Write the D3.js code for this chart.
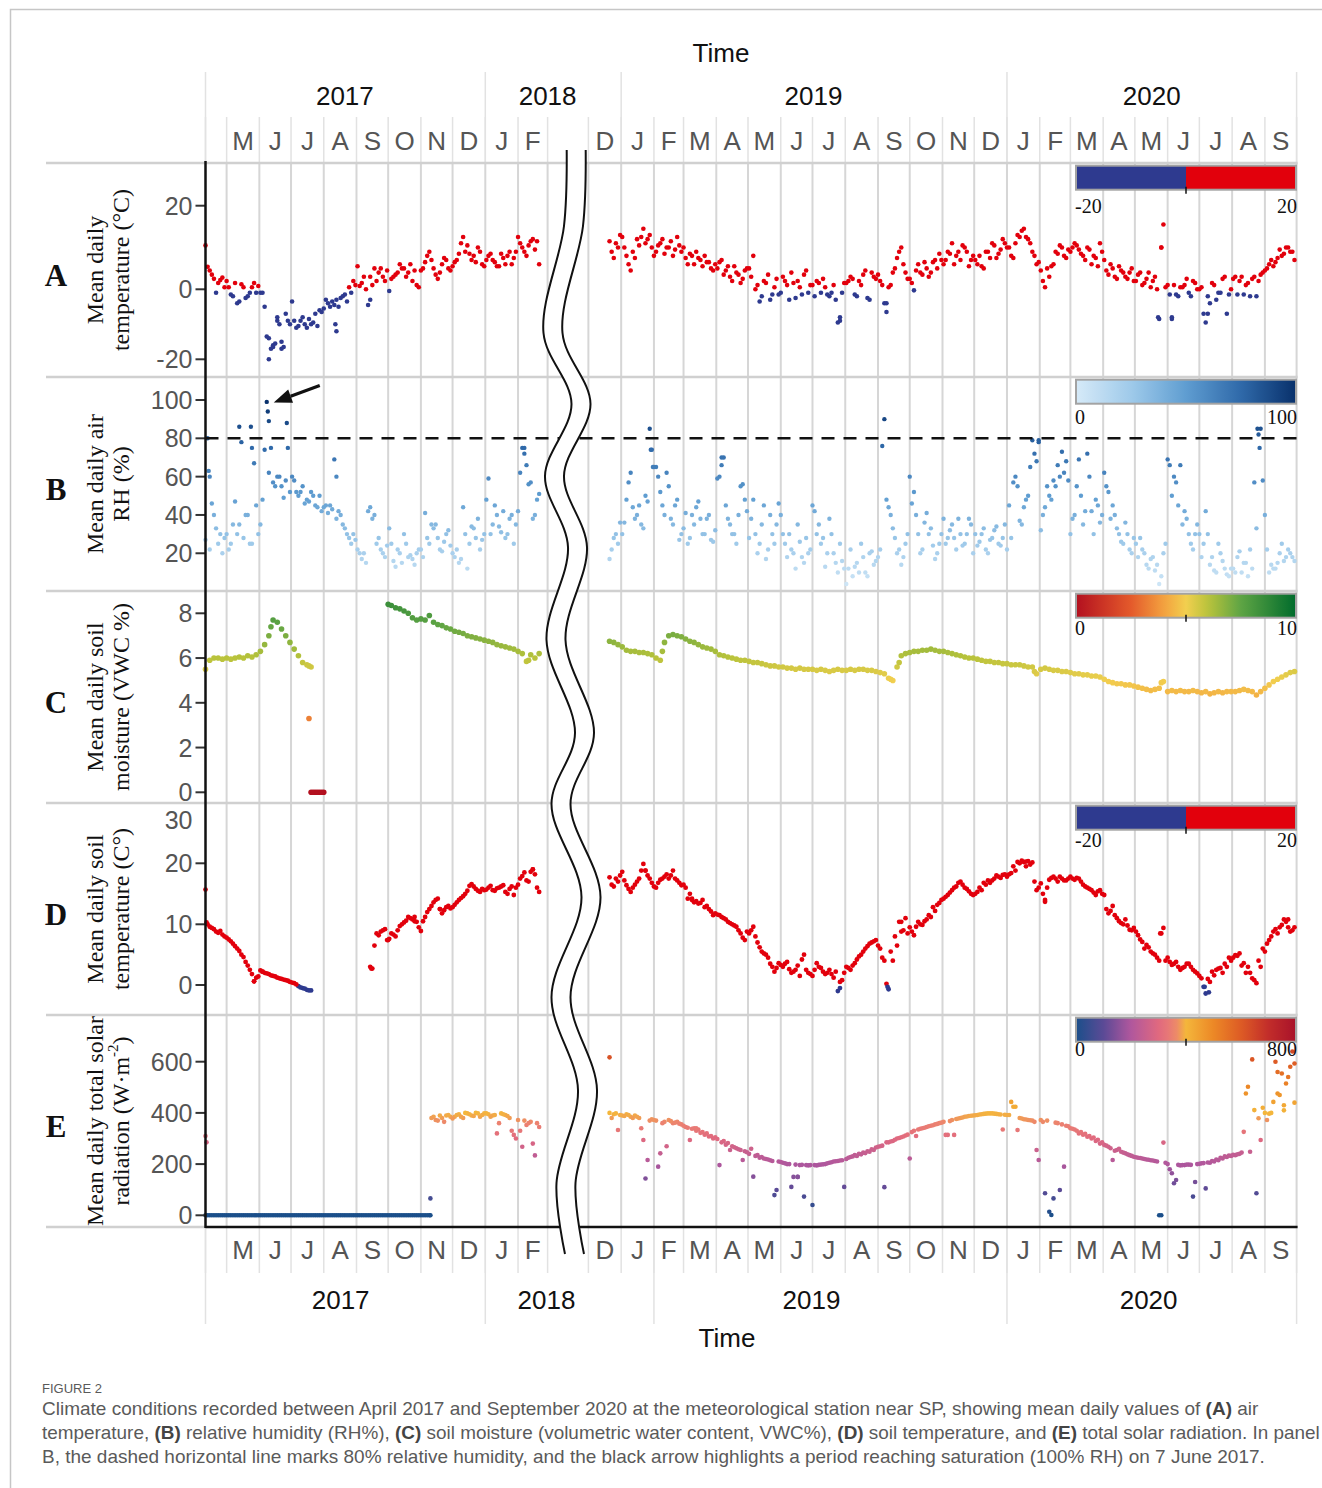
<!DOCTYPE html>
<html>
<head>
<meta charset="utf-8">
<script src="https://cdn.jsdelivr.net/npm/d3@7"></script>
<style>
  body { margin: 0; background: #fff; }
  svg text { font-family: "Liberation Sans", Arial, sans-serif; }
</style>
</head>
<body>
<div id="chart"></div>
<script>
// ---- data: daily means, one value every 4 days ----
// the "b" arrays are the days in between (offset by 2 days)
const seg1Start = "2017-04-11", seg1StartB = "2017-04-13";
const seg2Start = "2018-12-21", seg2StartB = "2018-12-23";
const stepDays = 4;

// (A) mean daily air temperature, degC
const airTemp1 = [10.5, 4.5, 2.5, 1.5, 2.8,
  2, -1.5, 1.5, -3.5, 0.5, -2, 0.5, -1,
  -1, -5, -20, -16, -9, -15, -7, -10,
  -9, -10.5, -8, -11, -10, -7, -6,
  -5.5, -4, -3.5, -3, -2.5, -1.5, 0.5, 2,
  5.5, 1.5, 0, 3, 5, 4, 3, 4.5,
  2.5, 3.5, 6, 5, 4, 2, 1,
  4.5, 6.5, 9, 5, 2.5, 6, 7, 4.5,
  6.5, 8.5, 12.5, 10.5, 7, 6.5, 9, 5.5,
  8, 7, 5.5, 8.5, 6, 9, 7.5,
  12.5, 10, 8, 11.5, 9.5, 6];
const airTemp1b = [5.4, 3.5, -1, 2.2, 0.5,
  0.5, -2, -4, 1.2, -2.5, -1, 1.5, 0.8,
  -1, -13.5, -17, -15.5, -10, -16.5, -9,
  -3.5, -11, -9, -10, -8.5, -9.5, -10.5, -6.5,
  -3, -5, -4.5, -5, -2, -3.5, -1, 1,
  0.8, 3, -4.5, 1, 2, 5, 2,
  -0.5, 3, 4, 5, 3, 6, 4.5, 0.5,
  5, 8, 7, 3.5, 4, 7.5, 5,
  5.5, 7, 11, 9, 8.5, 8, 10, 6,
  7, 8.5, 6.5, 5.5, 7.5, 8, 6, 9,
  11, 9, 10.5, 12, 11.5, null];
const airTemp2 = [11.5, 7.5, 10,
  12.5, 8, 4.5, 7.5, 10.5, 14.5, 12, 10,
  9, 11, 8.5, 10, 8, 12.5, 9,
  7.5, 8.5, 6, 7.5, 5.5, 6.5, 5, 6,
  6.5, 3.5, 5.5, 2, 4, 1.5, 4.5,
  5, 8, 1, -2, 1.5, -3, 0.5, -1.5,
  3, 1, 4, -2.5, 0.5, 3.5, -1,
  1, 2, -1, 0.5, -2, 1, -9.5, -1,
  1.5, 3, -1.5, 2, 3.5, -2.5, 4, 2.5,
  2, -4, 0.5, 4, 7.5, 10, 4,
  2.5, -0.3, 6, 3.5, 5, 4, 7, 8.5,
  6, 9, 11, 8, 7, 10, 5.5, 8,
  6, 5.5, 9, 7.5, 10.5, 8.5, 12, 10,
  8, 11, 12.5, 14.5, 12, 9, 6,
  4.5, 0.5, 3, 6, 8.5, 10, 7.5,
  9, 11, 9.5, 8, 10, 6, 7.5, 11,
  7, 3.5, 5, 2.5, 4.5, 3, 4, 2,
  3.5, 1, 2.5, 0.5, 3, -8.5, 15.5,
  1, -8.5, -1.5, 0.5, 1, -1, 2, 0,
  0.5, -9.5, -4, 1, -1, 2.5, -7, 0,
  3, 2, -1.5, 1.5, 2.5, -2, 3.5, 4.5,
  6, 5.5, 7.5, 8, 10, 9, 7];
const airTemp2b = [9, 11, 13,
  10, 6, 9, 12, 12.5, 11, 13,
  8, 10.5, 12, 10, 11.5, 9.5, 10.5,
  10, 6, 8, 9, 7, 8, 6.5, 4.5,
  5, 7, 4.5, 3, 5.5, 3.5, 2.5, 5,
  3, 0, -3.5, 2, 3.5, -1.5, 2.5,
  -1, 2, -3, 1.5, 2, -1.5, 4.5, 1,
  -2, 1.5, 2.5, -1.5, -1, -3, -8, 1.5,
  2, 2.5, -2, 1, 4.5, -3, 3,
  3.5, 1, -6.5, 1, 5, 9, 6, 2.5,
  1.5, 4.5, 4, 6.5, 3, 6.5, 5, 7,
  7, 8.5, 6, 9, 10.5, 9, 7,
  7, 8, 5, 9, 11, 7.5, 9.5, 11,
  10, 7.5, 13, 14, 12.5, 11, 8, 6.5,
  2, 5, 5.5, 9, 10.5, 8, 9.5,
  10, 10.5, 8.5, 7, 9.5, 8, 5.5, 9,
  4.5, 6, 3, 5.5, 4, 2.5, 5,
  2, 4, 1.5, 4, 2, 0, 10, 0.5,
  -1.5, 1, -2, 0.5, 2.5, -2, 1.5,
  0, -7, -2, 1.5, -3, -1, 3, -1.5,
  2.5, -1.5, 3, 1, -2, 3, 2, 4,
  5, 7, 6.5, 9.5, 8.5, 10, 9];
const airTempExtra = [["2017-06-10",-14],["2017-06-14",-16.5],["2017-06-18",-8],["2017-06-22",-17],["2017-08-12",-10],["2017-08-13",-12],["2017-09-14",-3],["2019-07-27",-9],["2019-09-09",-4],["2020-05-26",10],["2020-05-23",-8],["2020-07-09",-7],["2020-06-05",-8]];

// (B) mean daily air relative humidity, %
const rh1 = [27, 22, 40, 25, 20,
  30, 25, 47, 35, 28, 40, 25, 45,
  35, 74, 62, 57, 60, 55, 58, 52,
  58, 50, 55, 48, 52, 45, 50,
  44, 41, 43, 38, 40, 33, 28, 30,
  22, 17, 15, 44, 40, 28, 20, 24,
  25, 13, 20, 30, 18, 17, 20,
  22, 41, 25, 33, 28, 21, 30, 24,
  18, 15, 44, 12, 34, 28, 22, 30,
  59, 35, 40, 31, 28, 38, 25,
  42, 75, 66, 57, 40, 51];
const rh1b = [80, 46, 33, 30, 28,
  22, 35, 30, 78, 40, 25, 67, 30,
  48, 99, 75, 55, 60, 49, 75,
  60, 52, 52, 46, 47, 50, 44, 42,
  45, 45, 69, 42, 35, 30, 25, 27,
  20, 20, 42, 38, 25, 22, 18,
  33, 16, 22, 15, 25, 19, 14, 22,
  18, 28, 35, 35, 22, 26, 32,
  20, 22, 17, 30, 25, 33, 38, 27,
  48, 30, 45, 34, 42, 30, 40, 35,
  62, 72, 56, 38, 48, null];
const rh2 = [17, 28, 25,
  30, 48, 62, 38, 45, 33, 47, 74,
  65, 52, 40, 55, 35, 48, 30,
  41, 28, 35, 47, 30, 38, 27, 32,
  60, 70, 38, 30, 25, 55, 48,
  28, 48, 20, 35, 17, 40, 25, 46,
  30, 18, 22, 12, 26, 15, 20,
  45, 30, 25, 13, 38, 20, 10, 16,
  4, 22, 13, 10, 18, 8, 21, 16,
  22, 90, 44, 33, 20, 14, 25,
  60, 52, 30, 22, 41, 33, 17, 25,
  38, 28, 35, 22, 30, 25, 38, 20,
  24, 30, 22, 27, 32, 25, 28, 22,
  28, 60, 37, 44, 50, 79, 68,
  32, 44, 50, 58, 66, 73, 68,
  30, 40, 69, 35, 72, 42, 48, 36,
  62, 52, 45, 33, 26, 36, 22, 28,
  18, 22, 14, 17, 11, 4, 20,
  69, 50, 57, 66, 42, 30, 22, 35,
  18, 42, 14, 11, 25, 16, 9, 12,
  10, 21, 15, 8, 12, 33, 85, 40,
  10, 12, 15, 25, 18, 20, 16];
const rh2b = [22, 30, 36,
  36, 57, 44, 40, 35, 50, 85,
  65, 60, 45, 62, 38, 45, 27,
  33, 25, 40, 44, 38, 30, 40, 26,
  59, 66, 45, 35, 30, 40, 56, 42,
  38, 30, 25, 45, 22, 30, 35,
  40, 25, 30, 20, 35, 18, 28, 22,
  42, 35, 28, 20, 30, 15, 25, 12,
  12, 8, 15, 25, 10, 20, 14,
  18, 76, 48, 40, 28, 22, 18, 30,
  46, 40, 20, 36, 30, 24, 20, 30,
  25, 32, 28, 38, 24, 30, 35,
  30, 26, 33, 20, 28, 34, 24, 35,
  45, 57, 55, 35, 48, 65, 72, 78,
  40, 55, 48, 55, 60, 62, 58,
  38, 55, 50, 42, 60, 30, 45, 40,
  55, 38, 40, 30, 25, 30, 20,
  25, 28, 20, 12, 18, 14, 8, 25,
  66, 60, 45, 35, 38, 25, 30,
  30, 25, 30, 18, 10, 20, 12, 8,
  12, 18, 10, 15, 22, 57, 82, 58,
  22, 14, 12, 20, 16, 22, 18];
const rhExtra = [["2017-04-14",63],["2017-04-15",60],["2017-05-13",86],["2017-05-24",86],["2017-05-25",75],["2017-06-09",94],["2017-06-10",89],["2017-06-27",88],["2017-08-13",60],["2018-02-07",75],["2019-01-29",74],["2019-01-31",65],["2019-04-06",70],["2020-01-31",79],["2020-08-25",85],["2020-08-27",75]];
const arrowTarget = ["2017-06-08", 99];
const rhThreshold = 80;

// (C) mean daily soil moisture, VWC %
const soilMoist1 = [5.5, 5.9, 6.0, 6.0, 5.95,
  6.0, 5.95, 6.0, 6.05, 6.0, 6.1, 6.05, 6.15,
  6.3, 6.6, 7.0, 7.7, 7.6, 7.3, 7.0, 6.7,
  6.4, 6.1, 5.8, 5.7, 5.6, 0, 0,
  0, null, null, null, null, null, null, null,
  null, null, null, null, null, null, null, null,
  8.35, 8.25, 8.2, 8.1, 8.0, 7.8, 7.7,
  7.75, 7.7, 7.9, 7.6, 7.5, 7.45, 7.35, 7.3,
  7.2, 7.15, 7.1, 7.0, 6.95, 6.9, 6.85, 6.8,
  6.75, 6.7, 6.6, 6.55, 6.5, 6.45, 6.4,
  6.3, 6.2, 5.85, 6.15, 6.0, 6.2];
const soilMoist2 = [6.75, 6.7, 6.6,
  6.5, 6.35, 6.3, 6.3, 6.25, 6.25, 6.2, 6.15,
  6.0, 5.9, 6.7, 7.0, 7.05, 7.0, 6.95,
  6.85, 6.75, 6.7, 6.6, 6.5, 6.45, 6.4, 6.3,
  6.15, 6.1, 6.05, 6.0, 5.95, 5.9, 5.9,
  5.85, 5.8, 5.8, 5.75, 5.7, 5.65, 5.65, 5.6,
  5.6, 5.55, 5.55, 5.5, 5.55, 5.5, 5.5,
  5.5, 5.45, 5.5, 5.45, 5.4, 5.45, 5.5, 5.45,
  5.45, 5.5, 5.45, 5.5, 5.5, 5.45, 5.45, 5.4,
  5.35, 5.3, 5.1, 5.0, 5.6, 6.1, 6.2,
  6.25, 6.3, 6.3, 6.35, 6.35, 6.4, 6.35, 6.3,
  6.3, 6.25, 6.2, 6.15, 6.1, 6.05, 6.0, 6.0,
  5.95, 5.9, 5.85, 5.85, 5.8, 5.8, 5.75, 5.75,
  5.7, 5.7, 5.7, 5.65, 5.6, 5.6, 5.3,
  5.5, 5.55, 5.5, 5.45, 5.45, 5.4, 5.4,
  5.35, 5.3, 5.3, 5.25, 5.25, 5.2, 5.2, 5.15,
  5.05, 4.95, 4.9, 4.85, 4.85, 4.8, 4.8, 4.75,
  4.7, 4.65, 4.6, 4.55, 4.6, 4.65, 4.95,
  4.5, 4.55, 4.5, 4.55, 4.5, 4.5, 4.55, 4.5,
  4.45, 4.5, 4.4, 4.45, 4.5, 4.45, 4.5, 4.5,
  4.5, 4.55, 4.6, 4.55, 4.5, 4.35, 4.5, 4.65,
  4.8, 4.95, 5.05, 5.15, 5.25, 5.35, 5.4];
const soilMoistExtra = [["2017-10-01",8.4],["2017-07-18",3.3],["2017-07-20",0],["2017-07-22",0],["2017-07-26",0],["2017-07-30",0],["2017-07-18",5.65],["2017-06-12",7.4],["2018-02-11",5.9],["2019-02-09",6.3],["2019-09-13",5.05],["2019-09-21",5.8],["2020-05-26",4.9],["2020-01-27",5.4]];

// (D) mean daily soil temperature, degC
const soilTemp1 = [15.7, 9.6, 9.2, 8.6, 8.3,
  7.8, 7.2, 6.4, 5.6, 4.6, 3.2, 1.8, 1.2,
  2.4, 2.0, 1.8, 1.5, 1.2, 1.0, 0.8, 0.5,
  0.3, -0.2, -0.5, -0.8, -0.9, null, null,
  null, null, null, null, null, null, null, null,
  null, null, null, 3.0, 6.5, 8.2, 9.0, 7.4,
  8.5, 8.0, 9.7, 10.3, 11.2, 10.8, 10.4,
  8.9, 11.2, 12.5, 13.6, 14.2, 11.8, 12.8, 12.6,
  13.2, 14.0, 14.6, 15.5, 16.6, 15.8, 15.3, 15.6,
  16.0, 15.6, 15.9, 16.2, 15.3, 15.8, 14.8,
  16.5, 17.9, 17.2, 18.6, 18.2, 15.3];
const soilTemp1b = [10.0, 9.4, 8.8, 8.9, 8.0,
  7.5, 6.8, 6.0, 5.0, 3.8, 2.5, 0.6, 1.4,
  2.2, 1.9, 1.6, 1.4, 1.1, 0.9, 0.7,
  0.4, 0.1, -0.4, -0.6, -0.9, null, null, null,
  null, null, null, null, null, null, null, null,
  null, null, null, 2.7, 8.5, 8.8, 9.2,
  7.6, 8.3, 9.0, 10.0, 10.6, 11.0, 10.5, 9.5,
  10.5, 12.0, 13.0, 14.0, 12.5, 12.3, 13.0,
  12.8, 13.6, 14.3, 15.0, 16.3, 16.2, 15.5, 15.8,
  15.7, 16.3, 15.5, 16.0, 16.4, 15.0, 16.2, 16.0,
  17.5, 18.5, 17.0, 19.0, 16.0, null];
const soilTemp2 = [17.7, 16.2, 17.0,
  18.6, 16.4, 15.3, 16.5, 17.5, 19.9, 18.0, 16.8,
  16.0, 17.3, 17.8, 17.5, 18.8, 17.2, 16.4,
  16.0, 15.0, 13.6, 13.4, 14.0, 13.0, 12.1, 11.8,
  11.5, 11.0, 10.4, 10.0, 9.6, 8.5, 7.4,
  8.5, 9.6, 7.0, 5.5, 5.0, 3.5, 2.2, 3.6,
  3.0, 3.8, 2.0, 2.5, 1.5, 5.0, 2.0,
  1.5, 3.6, 2.8, 1.8, 2.5, 1.2, -1.0, 0.8,
  3.0, 2.5, 3.6, 4.7, 5.5, 6.4, 7.0, 7.4,
  6.0, 4.0, -0.7, 4.0, 6.5, 8.8, 11.0,
  9.5, 8.2, 10.4, 9.9, 10.8, 11.2, 12.2, 13.5,
  14.2, 14.8, 15.6, 16.2, 17.0, 16.0, 15.4, 14.8,
  15.3, 15.6, 16.5, 16.8, 17.5, 17.8, 18.1, 17.8,
  18.4, 18.8, 20.0, 20.3, 20.5, 20.2, 15.6,
  16.7, 13.7, 17.3, 17.8, 17.0, 17.5, 17.2,
  17.8, 17.3, 17.5, 16.5, 16.0, 15.6, 14.8, 15.6,
  14.8, 11.8, 13.0, 11.0, 10.2, 10.8, 9.1, 9.4,
  8.2, 7.1, 6.6, 5.5, 5.0, 4.0, 9.4,
  4.5, 3.3, 3.8, 2.5, 3.0, 3.5, 2.5, 1.9,
  1.1, -1.4, 0.5, 1.6, 2.7, 2.0, 3.0, 4.0,
  4.9, 5.2, 3.6, 3.0, 1.1, 0.3, 3.0, 5.5,
  7.4, 8.8, 8.5, 9.9, 10.4, 8.8, 9.5];
const soilTemp2b = [16.5, 17.5, 18.0,
  17.2, 15.8, 16.0, 17.0, 18.8, 18.8, 17.5,
  16.2, 16.8, 17.5, 18.2, 18.0, 17.5, 16.8,
  16.5, 14.2, 14.0, 13.8, 13.5, 12.8, 12.5, 11.5,
  11.6, 11.2, 10.8, 10.2, 9.8, 9.0, 7.8, 8.8,
  9.0, 8.0, 6.2, 5.2, 4.5, 3.0, 2.8,
  3.3, 3.5, 2.6, 2.2, 3.2, 4.2, 2.5, 1.8,
  2.5, 3.0, 2.2, 2.0, 1.8, 2.2, 0.5, 2.0,
  2.8, 3.2, 4.2, 5.0, 6.0, 6.8, 7.2,
  6.5, 4.5, 0.2, 5.5, 8.0, 10.4, 9.0, 8.5,
  8.8, 9.6, 10.0, 10.5, 11.5, 12.8, 13.2, 14.0,
  14.5, 15.2, 16.0, 16.8, 16.5, 15.8, 15.0,
  15.0, 16.0, 16.8, 17.2, 17.2, 18.0, 17.6, 18.2,
  18.2, 19.5, 20.3, 20.6, 20.4, 19.8, 17.0, 16.0,
  15.0, 16.0, 17.6, 17.5, 17.8, 17.2, 17.5,
  17.5, 17.6, 17.0, 16.2, 15.8, 15.2, 15.4, 15.0,
  12.5, 12.2, 11.5, 10.5, 10.0, 9.8, 9.0,
  8.8, 7.5, 6.0, 6.2, 5.2, 4.5, 8.5, 4.0,
  3.8, 3.5, 3.0, 2.8, 3.5, 3.0, 2.2,
  1.5, -0.3, 1.0, 2.2, 2.5, 2.8, 3.5, 4.5,
  4.5, 4.8, 3.2, 2.0, 2.0, 0.8, 4.0, 6.0,
  6.8, 8.0, 9.2, 9.5, 10.8, 9.5, 9.0];
const soilTempExtra = [["2017-04-12",10.3],["2017-05-27",0.6],["2017-06-04",2.2],["2017-09-15",2.7],["2017-10-01",7.4],["2017-10-26",11.2],["2017-11-19",12.5],["2018-02-15",19],
  ["2019-01-24",18.8],["2019-03-09",14.2],["2019-07-27",-0.5],["2019-09-10",-0.3],["2019-09-23",10.4],["2020-01-19",19.5],["2020-02-06",14],["2020-05-25",8.5],["2020-07-06",-0.3],["2020-07-10",-1.2],["2020-09-23",10.8]];

// (E) mean daily total solar radiation, W m-2
const solar1 = [0, 0, 0, 0, 0,
  0, 0, 0, 0, 0, 0, 0, 0,
  0, 0, 0, 0, 0, 0, 0, 0,
  0, 0, 0, 0, 0, 0, 0,
  0, 0, 0, 0, 0, 0, 0, 0,
  0, 0, 0, 0, 0, 0, 0, 0,
  0, 0, 0, 0, 0, 0, 0,
  0, 0, 0, 385, 370, 380, 390, 385,
  385, 395, 380, 398, 390, 400, 385, 398,
  395, 390, 320, 398, 392, 380, 314,
  372, 268, 353, 365, 234, 345];
const solar1b = [0, 0, 0, 0, 0,
  0, 0, 0, 0, 0, 0, 0, 0,
  0, 0, 0, 0, 0, 0, 0,
  0, 0, 0, 0, 0, 0, 0, 0,
  0, 0, 0, 0, 0, 0, 0, 0,
  0, 0, 0, 0, 0, 0, 0,
  0, 0, 0, 0, 0, 0, 0, 0,
  0, 0, 380, 372, 390, 365, 392,
  378, 392, 385, 400, 395, 388, 398, 392,
  398, 385, 392, 360, 395, 388, 330, 300,
  330, 370, 360, 280, 360, null];
const solar2 = [400, 395, 333,
  390, 395, 385, 390, 380, 294, 216, 375,
  370, 242, 365, 372, 360, 365, 355,
  345, 294, 340, 335, 325, 320, 310, 305,
  196, 290, 282, 270, 262, 255, 250,
  240, 151, 235, 228, 220, 215, 79, 210,
  205, 200, 111, 198, 196, 73, 195,
  40, 195, 198, 200, 205, 210, 212, 215,
  220, 228, 235, 240, 245, 250, 258, 265,
  270, 110, 285, 290, 300, 305, 312,
  222, 330, 335, 340, 345, 350, 355, 360,
  365, 314, 372, 376, 380, 385, 388, 390,
  392, 395, 397, 398, 397, 395, 335, 392,
  443, 424, 380, 375, 372, 370, 255,
  372, 86, 14, 66, 360, 355, 350,
  340, 335, 320, 315, 307, 300, 290, 280,
  275, 268, 216, 255, 248, 242, 235, 229,
  225, 222, 218, 215, 212, 0, 284,
  200, 164, 138, 195, 196, 198, 73, 200,
  203, 105, 205, 210, 215, 222, 228, 232,
  235, 240, 326, 502, 609, 86, 294, 400,
  397, 443, 476, 554, 515, 580, 593];
const solar2b = [380, 398, 392,
  388, 392, 380, 385, 340, 144, 370,
  372, 190, 360, 270, 368, 362, 358,
  350, 342, 338, 330, 322, 315, 308, 300,
  298, 285, 276, 255, 266, 258, 216, 246,
  260, 232, 225, 222, 218, 212, 99,
  208, 203, 200, 150, 150, 197, 196, 196,
  196, 197, 199, 203, 207, 211, 214, 111,
  225, 230, 232, 238, 243, 248, 255,
  268, 272, 285, 288, 295, 302, 308, 315,
  325, 310, 338, 342, 348, 352, 357, 362,
  314, 368, 314, 378, 382, 386, 389,
  391, 394, 396, 398, 398, 396, 394, 393,
  392, 424, 333, 378, 374, 371, 365, 216,
  365, 370, 1, 362, 99, 190, 348,
  338, 330, 325, 318, 310, 304, 295, 285,
  272, 262, 252, 260, 245, 238, 232,
  227, 224, 220, 217, 214, 210, 0, 205,
  180, 125, 197, 196, 198, 197, 130,
  201, 204, 206, 212, 218, 225, 230, 233,
  236, 238, 245, 476, 248, 411, 379, 420,
  372, 400, 600, 470, 410, 540, 640];
const solarExtra = [["2017-04-11",310],["2017-04-12",285],["2017-11-10",66],["2017-11-10",0],["2018-12-21",617],
  ["2019-03-13",340],["2019-06-17",150],["2020-09-13",560],["2020-09-19",430],["2020-09-29",440]];

// ---- axis labelling ----
const yearLabels = ["2017", "2018", "2019", "2020"];
const yearLabelDatesTop = ["2017-08-21", "2018-03-01", "2019-07-02", "2020-05-17"];
const yearLabelDatesBottom = ["2017-08-17", "2018-02-28", "2019-06-30", "2020-05-14"];
const yearEdgesTop = ["2017-04-11", "2018-01-01", "2019-01-01", "2020-01-01", "2020-10-01"];
const yearEdgesBottom = ["2017-04-11", "2018-01-01", "2019-02-01", "2020-01-01", "2020-10-01"];

const parse = d3.timeParse("%Y-%m-%d");

function series(vals, start) {
  const s = parse(start);
  return vals.map((v, i) => ({date: d3.timeDay.offset(s, i * stepDays), v: v}))
    .filter(d => d.v !== null);
}
function extras(list) {
  return list.map(([d, v]) => ({date: parse(d), v: v}));
}

const W = 1322, H = 1488;
const plotL = 205.5, plotR = 1296.6, plotTop = 163, plotBottom = 1227;

const svg = d3.select("#chart").append("svg")
  .attr("width", W).attr("height", H).style("display", "block");

// broken time axis: Apr 2017 - Feb 2018 | Dec 2018 - Sep 2020
const x = d3.scaleTime()
  .domain([parse("2017-04-11"), parse("2018-03-01"), parse("2018-12-01"), parse("2020-10-01")])
  .range([plotL, 547.6, 588.4, plotR]);

const monthEdges = d3.timeMonth.range(parse("2017-05-01"), parse("2018-03-02"))
  .concat(d3.timeMonth.range(parse("2018-12-01"), parse("2020-10-02")));
const monthsShown = d3.timeMonth.range(parse("2017-05-01"), parse("2018-03-01"))
  .concat(d3.timeMonth.range(parse("2018-12-01"), parse("2020-10-01")));

// colour scales
const tempColor = v => v < 0 ? "#2e3a8f" : "#e2000c";
const rhColor = d3.scaleLinear().domain([0, 25, 50, 75, 100])
  .range(["#d6eaf8", "#9fcaea", "#5f9dd1", "#2f69a9", "#08306b"]).clamp(true);
const vwcColor = d3.scaleLinear().domain([0, 2.5, 4, 5, 6, 7.5, 10])
  .range(["#b3101f", "#e45a2b", "#f3a23f", "#f2cf4f", "#b9c33b", "#5ea444", "#006b2c"]).clamp(true);
const solarColor = d3.scaleLinear().domain([0, 100, 200, 300, 360, 400, 500, 600, 700, 800])
  .range(["#1b4f8a", "#5b4a96", "#b0579d", "#e0697f", "#ec8270", "#f4b63b", "#ec8826", "#dd5b25", "#c22d2a", "#a8122a"]).clamp(true);

const panels = [
  {letter: "A", top: 163, bottom: 377, title: ["Mean daily", "temperature (\u00b0C)"],
   y: d3.scaleLinear().domain([-20, 0, 20]).range([359.3, 289.3, 205.7]),
   ticks: [-20, 0, 20], labelOnly: [],
   data: series(airTemp1, seg1Start).concat(series(airTemp1b, seg1StartB), series(airTemp2, seg2Start),
     series(airTemp2b, seg2StartB), extras(airTempExtra)),
   color: tempColor, r: 2.3,
   legend: {split: true, colors: ["#2e3a8f", "#e2000c"], labels: ["-20", "20"], tick: true, labelY: 206}},
  {letter: "B", top: 377, bottom: 591, title: ["Mean daily air", "RH (%)"],
   y: d3.scaleLinear().domain([0, 100]).range([591.6, 400]),
   ticks: [20, 40, 60, 80, 100], labelOnly: [],
   data: series(rh1, seg1Start).concat(series(rh1b, seg1StartB), series(rh2, seg2Start),
     series(rh2b, seg2StartB), extras(rhExtra)),
   color: rhColor, r: 2.2,
   legend: {scale: rhColor, domain: [0, 100], labels: ["0", "100"], tick: false, labelY: 417}},
  {letter: "C", top: 591, bottom: 803, title: ["Mean daily soil", "moisture (VWC %)"],
   y: d3.scaleLinear().domain([0, 8]).range([792.3, 613.3]),
   ticks: [0, 2, 4, 6, 8], labelOnly: [],
   data: series(soilMoist1, seg1Start).concat(series(soilMoist2, seg2Start), extras(soilMoistExtra)),
   color: vwcColor, r: 2.8,
   legend: {scale: vwcColor, domain: [0, 10], labels: ["0", "10"], tick: true, labelY: 628}},
  {letter: "D", top: 803, bottom: 1015, title: ["Mean daily soil", "temperature (C\u00b0)"],
   y: d3.scaleLinear().domain([0, 10, 20, 30]).range([985, 924.3, 863.3, 820]),
   ticks: [0, 10, 20], labelOnly: [30],
   data: series(soilTemp1, seg1Start).concat(series(soilTemp1b, seg1StartB), series(soilTemp2, seg2Start),
     series(soilTemp2b, seg2StartB), extras(soilTempExtra)),
   color: tempColor, r: 2.4,
   legend: {split: true, colors: ["#2e3a8f", "#e2000c"], labels: ["-20", "20"], tick: true, labelY: 840}},
  {letter: "E", top: 1015, bottom: 1227, title: ["Mean daily total solar", "radiation (W\u00b7m"],
   y: d3.scaleLinear().domain([0, 600]).range([1215.3, 1061.7]),
   ticks: [0, 200, 400, 600], labelOnly: [],
   data: series(solar1, seg1Start).concat(series(solar1b, seg1StartB), series(solar2, seg2Start),
     series(solar2b, seg2StartB), extras(solarExtra)),
   color: solarColor, r: 2.3,
   legend: {scale: solarColor, domain: [0, 800], labels: ["0", "800"], tick: true, labelY: 1049}}
];

// ---- frame ----
svg.append("path").attr("d", "M10.5,1488 V9.5 H1322")
  .attr("fill", "none").attr("stroke", "#c6c6c6").attr("stroke-width", 1.5);

// ---- top and bottom time strips ----
const strips = svg.append("g");
function stripLines(dates, y1, y2) {
  strips.selectAll(null).data(dates).join("line")
    .attr("x1", d => x(d)).attr("x2", d => x(d))
    .attr("y1", y1).attr("y2", y2)
    .attr("stroke", "#e2e2e2").attr("stroke-width", 1.5);
}
stripLines([parse("2017-04-11")].concat(monthEdges), 117, plotTop);
stripLines(yearEdgesTop.map(parse), 72, plotTop);
stripLines([parse("2017-04-11")].concat(monthEdges), plotBottom, 1273);
stripLines(yearEdgesBottom.map(parse), plotBottom, 1324);

[141, 1250].forEach(yy => {
  strips.selectAll(null).data(monthsShown).join("text")
    .attr("x", d => (x(d) + x(d3.timeMonth.offset(d, 1))) / 2)
    .attr("y", yy).attr("text-anchor", "middle").attr("dominant-baseline", "central")
    .attr("font-size", 26).attr("fill", "#555")
    .text(d => d3.timeFormat("%B")(d)[0]);
});
strips.selectAll(null).data(yearLabels).join("text")
  .attr("x", (d, i) => x(parse(yearLabelDatesTop[i]))).attr("y", 96)
  .attr("text-anchor", "middle").attr("dominant-baseline", "central")
  .attr("font-size", 26).attr("fill", "#111").text(d => d);
strips.selectAll(null).data(yearLabels).join("text")
  .attr("x", (d, i) => x(parse(yearLabelDatesBottom[i]))).attr("y", 1300)
  .attr("text-anchor", "middle").attr("dominant-baseline", "central")
  .attr("font-size", 26).attr("fill", "#111").text(d => d);
svg.append("text").attr("x", 721).attr("y", 53).attr("text-anchor", "middle")
  .attr("dominant-baseline", "central").attr("font-size", 26).attr("fill", "#111").text("Time");
svg.append("text").attr("x", 727).attr("y", 1338).attr("text-anchor", "middle")
  .attr("dominant-baseline", "central").attr("font-size", 26).attr("fill", "#111").text("Time");

// ---- panel grid ----
const grid = svg.append("g");
grid.selectAll(null).data(monthEdges).join("line")
  .attr("x1", d => x(d)).attr("x2", d => x(d))
  .attr("y1", plotTop).attr("y2", plotBottom)
  .attr("stroke", "#d6d6d6").attr("stroke-width", 2);
grid.selectAll(null).data(panels).join("line")
  .attr("x1", 46).attr("x2", plotR + 1)
  .attr("y1", d => d.top).attr("y2", d => d.top)
  .attr("stroke", "#d0d0d0").attr("stroke-width", 2.5);
grid.append("line").attr("x1", 46).attr("x2", plotL).attr("y1", plotBottom).attr("y2", plotBottom)
  .attr("stroke", "#d0d0d0").attr("stroke-width", 2.5);

// ---- panels ----
const defs = svg.append("defs");
const serif = "'Liberation Serif', 'Times New Roman', serif";
panels.forEach(p => {
  const g = svg.append("g");
  const mid = (p.top + p.bottom) / 2;

  g.selectAll("circle").data(p.data).join("circle")
    .attr("cx", d => x(d.date)).attr("cy", d => p.y(d.v))
    .attr("r", p.r).attr("fill", d => p.color(d.v));

  // y ticks
  g.selectAll(".tk").data(p.ticks).join("line").attr("class", "tk")
    .attr("x1", plotL - 10).attr("x2", plotL)
    .attr("y1", d => p.y(d)).attr("y2", d => p.y(d))
    .attr("stroke", "#333").attr("stroke-width", 2);
  g.selectAll(".tl").data(p.ticks.concat(p.labelOnly)).join("text").attr("class", "tl")
    .attr("x", plotL - 13).attr("y", d => p.y(d))
    .attr("text-anchor", "end").attr("dominant-baseline", "central")
    .attr("font-size", 25).attr("fill", "#555").text(d => d);

  // titles
  g.append("text")
    .attr("transform", `translate(95,${mid}) rotate(-90)`)
    .attr("text-anchor", "middle").attr("dominant-baseline", "central")
    .style("font-family", serif).attr("font-size", 24).attr("fill", "#111").text(p.title[0]);
  const t2 = g.append("text")
    .attr("transform", `translate(121,${mid}) rotate(-90)`)
    .attr("text-anchor", "middle").attr("dominant-baseline", "central")
    .style("font-family", serif).attr("font-size", 24).attr("fill", "#111").text(p.title[1]);
  if (p.letter === "E") {
    t2.append("tspan").attr("baseline-shift", "super").attr("font-size", 15).text("-2");
    t2.append("tspan").text(")");
  }
  g.append("text").attr("x", 56).attr("y", mid + 5)
    .attr("text-anchor", "middle").attr("dominant-baseline", "central")
    .style("font-family", serif).attr("font-weight", "bold").attr("font-size", 31)
    .attr("fill", "#111").text(p.letter);
});

// RH 80% threshold
const yB = panels[1].y;
svg.append("line").attr("x1", plotL).attr("x2", plotR)
  .attr("y1", yB(rhThreshold)).attr("y2", yB(rhThreshold))
  .attr("stroke", "#111").attr("stroke-width", 2.5).attr("stroke-dasharray", "13,9");

// axes
svg.append("line").attr("x1", plotL).attr("x2", plotL).attr("y1", 161).attr("y2", plotBottom + 1)
  .attr("stroke", "#111").attr("stroke-width", 2.5);
svg.append("line").attr("x1", plotL).attr("x2", plotR + 1).attr("y1", plotBottom).attr("y2", plotBottom)
  .attr("stroke", "#111").attr("stroke-width", 2.5);

// colour legends
const lgX0 = 1076, lgX1 = 1296, lgH = 24;
panels.forEach((p, k) => {
  const L = p.legend;
  const grad = defs.append("linearGradient").attr("id", "lg" + k)
    .attr("x1", "0%").attr("x2", "100%").attr("y1", "0%").attr("y2", "0%");
  if (L.split) {
    [[0, L.colors[0]], [0.5, L.colors[0]], [0.5, L.colors[1]], [1, L.colors[1]]].forEach(([o, c]) =>
      grad.append("stop").attr("offset", o).attr("stop-color", c));
  } else {
    d3.range(0, 1.0001, 1 / 24).forEach(o =>
      grad.append("stop").attr("offset", o)
        .attr("stop-color", L.scale(L.domain[0] + o * (L.domain[1] - L.domain[0]))));
  }
  const top = p.top + 2.7;
  svg.append("rect").attr("x", lgX0).attr("y", top).attr("width", lgX1 - lgX0).attr("height", lgH)
    .attr("fill", `url(#lg${k})`).attr("stroke", "#a3a3a3").attr("stroke-width", 2);
  if (L.tick) {
    svg.append("line").attr("x1", (lgX0 + lgX1) / 2).attr("x2", (lgX0 + lgX1) / 2)
      .attr("y1", top + lgH - 3).attr("y2", top + lgH + 4)
      .attr("stroke", "#111").attr("stroke-width", 1.5);
  }
  svg.append("text").attr("x", lgX0 - 1).attr("y", L.labelY).attr("dominant-baseline", "central")
    .style("font-family", serif).attr("font-size", 20).attr("fill", "#111").text(L.labels[0]);
  svg.append("text").attr("x", lgX1 + 1).attr("y", L.labelY).attr("text-anchor", "end")
    .attr("dominant-baseline", "central")
    .style("font-family", serif).attr("font-size", 20).attr("fill", "#111").text(L.labels[1]);
});

// axis break marks
const breakPts = [[566.7,150],[564,226],[543.5,333],[571.5,404],[545,476],[568,547],[546.5,640],
  [575,733],[551.5,804],[581.5,897],[551.5,997],[578,1090],[556.5,1183],[565,1254]];
const gap = 19;
svg.append("path")
  .attr("d", d3.area().y(d => d[1]).x0(d => d[0]).x1(d => d[0] + gap).curve(d3.curveCatmullRom)(breakPts))
  .attr("fill", "#fff");
const wave = d3.line().curve(d3.curveCatmullRom);
[0, gap].forEach(dx => {
  svg.append("path").attr("d", wave(breakPts.map(([a, b]) => [a + dx, b])))
    .attr("fill", "none").attr("stroke", "#111").attr("stroke-width", 2);
});

// arrow marking saturation
const tip = [x(parse(arrowTarget[0])) + 7, yB(arrowTarget[1]) + 0.5];
const tail = [tip[0] + 46, tip[1] - 17];
const len = Math.hypot(tail[0] - tip[0], tail[1] - tip[1]);
const ux = (tip[0] - tail[0]) / len, uy = (tip[1] - tail[1]) / len;
const base = [tip[0] - 18 * ux, tip[1] - 18 * uy];
svg.append("line").attr("x1", tail[0]).attr("y1", tail[1]).attr("x2", base[0]).attr("y2", base[1])
  .attr("stroke", "#111").attr("stroke-width", 3.2);
svg.append("path")
  .attr("d", `M${tip[0]},${tip[1]} L${base[0] - 7 * uy},${base[1] + 7 * ux} L${base[0] + 7 * uy},${base[1] - 7 * ux} Z`)
  .attr("fill", "#111");

// ---- caption ----
const cap = svg.append("g").style("font-family", "'Open Sans', 'Noto Sans', sans-serif").attr("fill", "#5a5a5a");
cap.append("text").attr("x", 42).attr("y", 1388).attr("dominant-baseline", "central")
  .attr("font-size", 13).text("FIGURE 2");
const capLines = [
  {y: 1408, w: 1227, parts: [["Climate conditions recorded between April 2017 and September 2020 at the meteorological station near SP, showing mean daily values of ", false], ["(A)", true], [" air", false]]},
  {y: 1432, w: 1278, parts: [["temperature, ", false], ["(B)", true], [" relative humidity (RH%), ", false], ["(C)", true], [" soil moisture (volumetric water content, VWC%), ", false], ["(D)", true], [" soil temperature, and ", false], ["(E)", true], [" total solar radiation. In panel", false]]},
  {y: 1456, w: 1223, parts: [["B, the dashed horizontal line marks 80% relative humidity, and the black arrow highlights a period reaching saturation (100% RH) on 7 June 2017.", false]]}
];
capLines.forEach(l => {
  const t = cap.append("text").attr("x", 42).attr("y", l.y).attr("dominant-baseline", "central")
    .attr("font-size", 17);
  l.parts.forEach(([s, b]) => {
    const ts = t.append("tspan").text(s);
    if (b) ts.attr("font-weight", "bold").attr("fill", "#444");
  });
  // scale the font so each line spans the same width as in the figure
  const natural = t.node().getComputedTextLength();
  if (natural > 0) t.attr("font-size", Math.min(19, 17 * l.w / natural));
});
</script>
</body>
</html>
